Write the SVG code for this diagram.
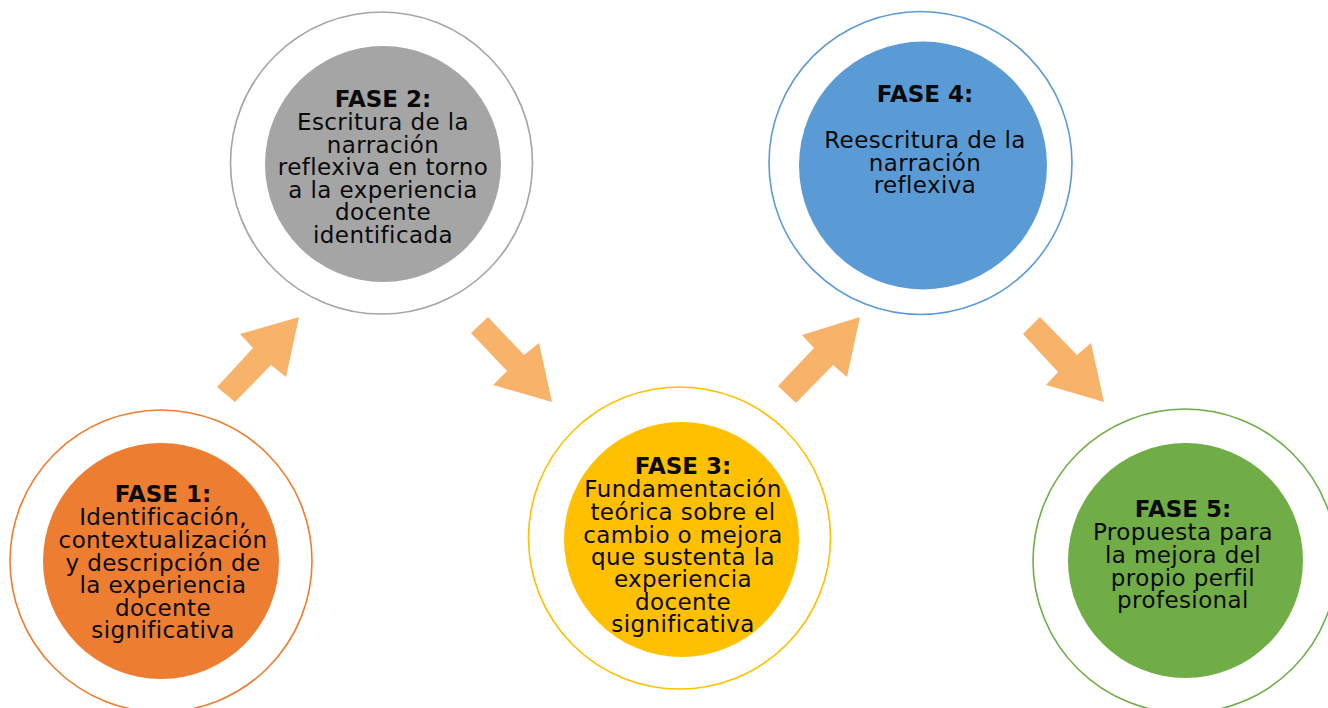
<svg xmlns="http://www.w3.org/2000/svg" width="1328" height="708" viewBox="0 0 1328 708">
<style>
.ring{fill:none;stroke-width:1.6}
.t{font-family:"DejaVu Sans","Liberation Sans",sans-serif;font-size:23px;fill:#0a0a0a;text-anchor:middle;letter-spacing:0.4px}
.b{font-weight:bold;letter-spacing:0}
.arrow{fill:#F8B36B}
</style>
<rect width="1328" height="708" fill="#ffffff"/>
<g id="connectors">
<polygon class="arrow" points="299,317 240,334 253,348 217,387 235,402 271,365 286,377"/>
<polygon class="arrow" points="488,317 471,333 507,371 493,385 552,402 539,343 524,355"/>
<polygon class="arrow" points="860,317 802,335 814,348 778,386 796,403 833,365 847,377"/>
<polygon class="arrow" points="1040,317 1023,334 1058,372 1046,385 1104,402 1091,343 1077,355"/>
</g>
<g id="fase1">
<circle class="ring" cx="161" cy="561" r="151" stroke="#ED7D31"/>
<circle cx="161" cy="561" r="118" fill="#ED7D31"/>
<text class="t b" x="163" y="502">FASE 1:</text>
<text class="t" x="163" y="525">Identificación,</text>
<text class="t" x="163" y="548">contextualización</text>
<text class="t" x="163" y="571">y descripción de</text>
<text class="t" x="163" y="593">la experiencia</text>
<text class="t" x="163" y="616">docente</text>
<text class="t" x="163" y="638">significativa</text>
</g>
<g id="fase2">
<circle class="ring" cx="381.5" cy="163" r="151" stroke="#A5A5A5"/>
<circle cx="383" cy="164" r="118" fill="#A5A5A5"/>
<text class="t b" x="383" y="107">FASE 2:</text>
<text class="t" x="383" y="130">Escritura de la</text>
<text class="t" x="383" y="153">narración</text>
<text class="t" x="383" y="175">reflexiva en torno</text>
<text class="t" x="383" y="198">a la experiencia</text>
<text class="t" x="383" y="220">docente</text>
<text class="t" x="383" y="243">identificada</text>
</g>
<g id="fase3">
<circle class="ring" cx="679.5" cy="538" r="151" stroke="#FFC000"/>
<circle cx="681.5" cy="539.5" r="117.5" fill="#FFC000"/>
<text class="t b" x="683" y="474">FASE 3:</text>
<text class="t" x="683" y="497">Fundamentación</text>
<text class="t" x="683" y="520">teórica sobre el</text>
<text class="t" x="683" y="543">cambio o mejora</text>
<text class="t" x="683" y="565">que sustenta la</text>
<text class="t" x="683" y="587">experiencia</text>
<text class="t" x="683" y="610">docente</text>
<text class="t" x="683" y="632">significativa</text>
</g>
<g id="fase4">
<circle class="ring" cx="920.5" cy="163" r="151.5" stroke="#5B9BD5"/>
<circle cx="923" cy="165.5" r="124" fill="#5B9BD5"/>
<text class="t b" x="925" y="102">FASE 4:</text>
<text class="t" x="925" y="148">Reescritura de la</text>
<text class="t" x="925" y="171">narración</text>
<text class="t" x="925" y="193">reflexiva</text>
</g>
<g id="fase5">
<circle class="ring" cx="1185" cy="561" r="152" stroke="#70AD47"/>
<circle cx="1185.5" cy="560.5" r="117.5" fill="#70AD47"/>
<text class="t b" x="1183" y="517">FASE 5:</text>
<text class="t" x="1183" y="540">Propuesta para</text>
<text class="t" x="1183" y="563">la mejora del</text>
<text class="t" x="1183" y="586">propio perfil</text>
<text class="t" x="1183" y="608">profesional</text>
</g>
</svg>
